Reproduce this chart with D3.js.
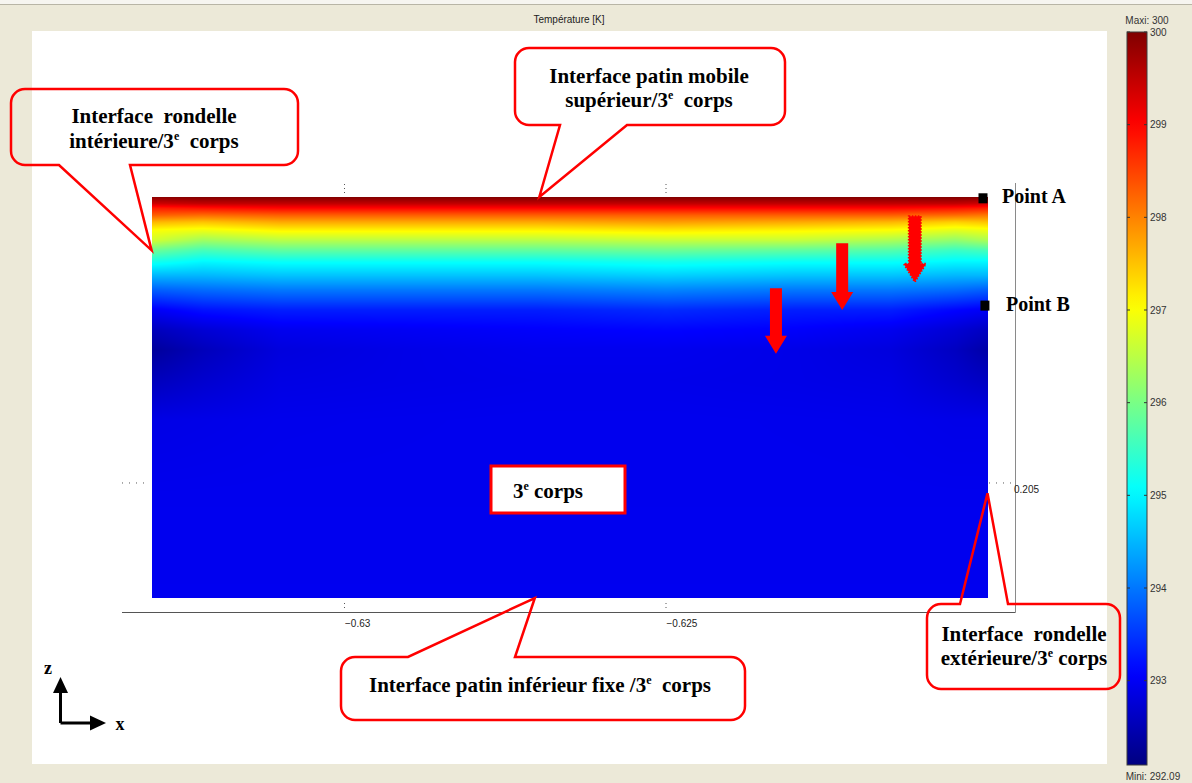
<!DOCTYPE html>
<html>
<head>
<meta charset="utf-8">
<script src="https://cdn.jsdelivr.net/npm/d3@7"></script>
<style>
  html, body { margin: 0; padding: 0; background: #ece9d8; overflow: hidden; }
  svg text { white-space: pre; }
</style>
</head>
<body>
<script>
// ---------- data ----------
// temperature field of the third body [K], sampled on a grid (x columns, z rows)
const gridX = [-0.633, -0.6322, -0.631, -0.629, -0.627, -0.625, -0.623, -0.6215, -0.6205, -0.620];
const gridZ = [0.20945, 0.20935, 0.20928, 0.20917, 0.20906, 0.20893, 0.20878, 0.20862, 0.20844,
               0.20823, 0.20800, 0.20769, 0.20738, 0.20707, 0.20660, 0.20598, 0.20474, 0.20321];
const gridT = [
  [299.9, 300.0, 300.0, 300.0, 300.0, 300.0, 300.0, 300.0, 300.0, 299.95],
  [299.4, 299.5, 299.5, 299.5, 299.5, 299.5, 299.5, 299.5, 299.5, 299.4],
  [298.8, 298.9, 299.0, 299.0, 299.0, 299.0, 299.0, 299.0, 298.9, 298.8],
  [298.3, 298.2, 298.3, 298.3, 298.3, 298.3, 298.3, 298.3, 298.2, 298.1],
  [297.6, 297.5, 297.7, 297.7, 297.7, 297.8, 297.7, 297.6, 297.4, 297.5],
  [297.0, 296.9, 297.1, 297.1, 297.1, 297.2, 297.1, 297.0, 296.8, 296.9],
  [296.7, 296.3, 296.5, 296.5, 296.5, 296.6, 296.6, 296.4, 296.2, 296.4],
  [295.9, 295.6, 295.8, 295.8, 295.8, 295.9, 295.8, 295.7, 295.5, 295.6],
  [295.2, 295.0, 295.1, 295.1, 295.1, 295.2, 295.1, 295.1, 295.0, 295.0],
  [294.5, 294.5, 294.6, 294.6, 294.6, 294.7, 294.6, 294.6, 294.5, 294.5],
  [293.8, 293.9, 294.0, 294.0, 294.0, 294.1, 294.0, 294.0, 293.9, 293.8],
  [293.0, 293.2, 293.3, 293.3, 293.3, 293.4, 293.3, 293.3, 293.1, 293.0],
  [292.55, 292.75, 292.95, 293.0, 293.05, 293.1, 293.05, 292.95, 292.75, 292.6],
  [292.3, 292.55, 292.82, 292.9, 292.95, 292.95, 292.9, 292.82, 292.6, 292.4],
  [292.55, 292.7, 292.87, 292.9, 292.92, 292.92, 292.9, 292.87, 292.7, 292.6],
  [292.88, 292.9, 292.93, 292.94, 292.95, 292.95, 292.94, 292.93, 292.9, 292.9],
  [292.95, 292.95, 292.95, 292.95, 292.95, 292.95, 292.95, 292.95, 292.95, 292.95],
  [292.96, 292.96, 292.96, 292.96, 292.96, 292.96, 292.96, 292.96, 292.96, 292.96]
];
const tMin = 292.09, tMax = 300;
const xTicks = [-0.63, -0.625];
const zTicks = [0.205];
const colorTicks = [293, 294, 295, 296, 297, 298, 299, 300];
const titleText = "Température [K]";

// probe points on the outer washer interface
const pointNames = ["Point A", "Point B"];
const pointX = [-0.62007, -0.62004];
const pointZ = [0.20943, 0.20776];

// heat flux arrows (x, z start, z tip)
const arrowX = [-0.62329, -0.62226, -0.62113];
const arrowZ0 = [0.20803, 0.20873, 0.20915];
const arrowZ1 = [0.20701, 0.20769, 0.20813];
const arrowDashed = [false, false, true];

// callout labels: text lines, [text, isSuperscript] parts
const calloutLines = [
  [[["Interface  rondelle", 0]], [["intérieure/3", 0], ["e", 1], ["  corps", 0]]],
  [[["Interface patin mobile", 0]], [["supérieur/3", 0], ["e", 1], ["  corps", 0]]],
  [[["Interface patin inférieur fixe /3", 0], ["e", 1], ["  corps", 0]]],
  [[["Interface  rondelle", 0]], [["extérieure/3", 0], ["e", 1], [" corps", 0]]]
];
const calloutTipX = [-0.633, -0.62697, -0.62704, -0.620];
const calloutTipZ = [0.20862, 0.20945, 0.20321, 0.20484];

// ---------- layout ----------
const W = 1192, H = 783;
const calloutLayout = [
  { box: [11, 89, 298, 165], side: "bottom", base: [59, 130], cx: 154, ys: [123, 148] },
  { box: [515, 48, 785, 125], side: "bottom", base: [560, 627], cx: 649, ys: [83, 107] },
  { box: [341, 657, 745, 720], side: "top", base: [408, 515], cx: 540, ys: [692] },
  { box: [927, 604, 1120, 689], side: "top", base: [960, 1008], cx: 1024, ys: [641, 665] }
];

const svg = d3.select("body").append("svg").attr("width", W).attr("height", H);

// window background
svg.append("rect").attr("width", W).attr("height", H).attr("fill", "#ece9d8");
svg.append("rect").attr("width", W).attr("height", 4).attr("fill", "#f6f5f0");
svg.append("line").attr("x1", 0).attr("x2", W).attr("y1", 4.5).attr("y2", 4.5)
  .attr("stroke", "#b8b5a6").attr("stroke-width", 1);
svg.append("rect").attr("x", 32).attr("y", 31).attr("width", 1075).attr("height", 733).attr("fill", "#fff");

svg.append("text").attr("x", 569).attr("y", 23).attr("text-anchor", "middle")
  .attr("font-family", "Liberation Sans, Arial, sans-serif").attr("font-size", 10)
  .attr("fill", "#222").text(titleText);

// ---------- scales ----------
const x = d3.scaleLinear().domain([-0.633, -0.620]).range([151.6, 987.5]);
const z = d3.scaleLinear().domain([0.20321, 0.20945]).range([598, 197]);

function jet(t) {
  const c = v => Math.max(0, Math.min(1, v));
  return [c(1.5 - Math.abs(4 * t - 3)), c(1.5 - Math.abs(4 * t - 2)), c(1.5 - Math.abs(4 * t - 1))];
}
const tNorm = d3.scaleLinear().domain([tMin, tMax]).clamp(true);
const color = v => { const [r, g, b] = jet(tNorm(v)); return d3.rgb(r * 255, g * 255, b * 255); };

// ---------- temperature field ----------
const colIdx = d3.scaleLinear().domain(gridX).range(d3.range(gridX.length)).clamp(true);
const rowIdx = d3.scaleLinear().domain(gridZ).range(d3.range(gridZ.length)).clamp(true);
const fx0 = Math.round(x(gridX[0])), fx1 = Math.round(x(gridX[gridX.length - 1]));
const fy0 = Math.round(z(gridZ[0])), fy1 = Math.round(z(gridZ[gridZ.length - 1]));
const fw = fx1 - fx0, fh = fy1 - fy0;
const cv = document.createElement("canvas");
cv.width = fw; cv.height = fh;
const ctx = cv.getContext("2d");
const img = ctx.createImageData(fw, fh);
for (let j = 0; j < fh; j++) {
  const ri = rowIdx(z.invert(fy0 + j + 0.5));
  const r0 = Math.floor(ri), r1 = Math.min(r0 + 1, gridZ.length - 1), fr = ri - r0;
  for (let i = 0; i < fw; i++) {
    const ci = colIdx(x.invert(fx0 + i + 0.5));
    const c0 = Math.floor(ci), c1 = Math.min(c0 + 1, gridX.length - 1), fc = ci - c0;
    const top = gridT[r0][c0] * (1 - fc) + gridT[r0][c1] * fc;
    const bot = gridT[r1][c0] * (1 - fc) + gridT[r1][c1] * fc;
    const [r, g, b] = jet(tNorm(top * (1 - fr) + bot * fr));
    const k = (j * fw + i) * 4;
    img.data[k] = r * 255; img.data[k + 1] = g * 255; img.data[k + 2] = b * 255; img.data[k + 3] = 255;
  }
}
ctx.putImageData(img, 0, 0);
svg.append("image").attr("x", fx0).attr("y", fy0).attr("width", fw).attr("height", fh)
  .attr("preserveAspectRatio", "none").attr("href", cv.toDataURL());

// ---------- axes ----------
svg.append("line").attr("x1", 122).attr("x2", 1015.5).attr("y1", 612.5).attr("y2", 612.5)
  .attr("stroke", "#555").attr("stroke-width", 1.2);
svg.append("line").attr("x1", 1015.5).attr("x2", 1015.5).attr("y1", 183).attr("y2", 612.5)
  .attr("stroke", "#8a8a8a").attr("stroke-width", 1);

const xAxis = svg.append("g").attr("transform", "translate(0,612)")
  .call(d3.axisBottom(x).tickValues(xTicks).tickSize(0).tickPadding(8).tickFormat(d3.format("")));
xAxis.select(".domain").remove();
xAxis.selectAll("text").attr("text-anchor", "start").attr("font-family", "Liberation Sans, Arial, sans-serif")
  .attr("font-size", 10).attr("fill", "#222");

const zAxis = svg.append("g").attr("transform", "translate(1014,0)")
  .call(d3.axisRight(z).tickValues(zTicks).tickSize(0).tickPadding(0).tickFormat(d3.format("")));
zAxis.select(".domain").remove();
zAxis.selectAll("text").attr("dy", "0.95em").attr("font-family", "Liberation Sans, Arial, sans-serif")
  .attr("font-size", 10).attr("fill", "#222");

// dotted grid ticks
const dotted = svg.append("g").attr("stroke", "#555").attr("stroke-width", 1).attr("stroke-dasharray", "1,3");
xTicks.forEach(v => {
  dotted.append("line").attr("x1", x(v)).attr("x2", x(v)).attr("y1", 184).attr("y2", 194);
  dotted.append("line").attr("x1", x(v)).attr("x2", x(v)).attr("y1", 603).attr("y2", 608);
});
zTicks.forEach(v => {
  dotted.append("line").attr("x1", 122).attr("x2", 150).attr("y1", z(v)).attr("y2", z(v)).attr("stroke-dasharray", "1,6");
  dotted.append("line").attr("x1", 989).attr("x2", 1013).attr("y1", z(v)).attr("y2", z(v)).attr("stroke-dasharray", "1,6");
});

// ---------- heat flux arrows ----------
function arrowPath(cx, ty, tp) {
  const sw = 6, hw = 11, hl = 18;
  return `M${cx - sw},${ty}L${cx + sw},${ty}L${cx + sw},${tp - hl}L${cx + hw},${tp - hl}L${cx},${tp}` +
         `L${cx - hw},${tp - hl}L${cx - sw},${tp - hl}Z`;
}
arrowX.forEach((v, i) => {
  const p = svg.append("path").attr("d", arrowPath(x(v), z(arrowZ0[i]), z(arrowZ1[i]))).attr("fill", "#ff0000");
  if (arrowDashed[i]) p.attr("stroke", "#ff0000").attr("stroke-width", 2).attr("stroke-dasharray", "1.5,1.5");
});

// ---------- probe points ----------
const labelDx = [19, 21];
pointNames.forEach((n, i) => {
  svg.append("rect").attr("x", x(pointX[i]) - 4.5).attr("y", z(pointZ[i]) - 5)
    .attr("width", 9).attr("height", 10).attr("fill", "#000");
  svg.append("text").attr("x", x(pointX[i]) + labelDx[i]).attr("y", z(pointZ[i]) + 5)
    .attr("font-family", "Liberation Serif, Times New Roman, serif").attr("font-weight", "bold")
    .attr("font-size", 20).attr("fill", "#000").text(n);
});

// ---------- callouts ----------
function calloutPath(b, side, base, tip, r) {
  const [x0, y0, x1, y1] = b;
  let p = `M${x0 + r},${y0}`;
  if (side === "top") p += `L${base[0]},${y0}L${tip[0]},${tip[1]}L${base[1]},${y0}`;
  p += `L${x1 - r},${y0}A${r},${r} 0 0 1 ${x1},${y0 + r}L${x1},${y1 - r}A${r},${r} 0 0 1 ${x1 - r},${y1}`;
  if (side === "bottom") p += `L${base[1]},${y1}L${tip[0]},${tip[1]}L${base[0]},${y1}`;
  p += `L${x0 + r},${y1}A${r},${r} 0 0 1 ${x0},${y1 - r}L${x0},${y0 + r}A${r},${r} 0 0 1 ${x0 + r},${y0}Z`;
  return p;
}
function writeLine(g, cx, y, parts, size) {
  const t = g.append("text").attr("x", cx).attr("y", y).attr("text-anchor", "middle")
    .attr("font-family", "Liberation Serif, Times New Roman, serif").attr("font-weight", "bold")
    .attr("font-size", size).attr("fill", "#000");
  let raised = false;
  parts.forEach(([s, sup]) => {
    const ts = t.append("tspan").text(s);
    if (sup && !raised) { ts.attr("dy", -8).attr("font-size", 12); raised = true; }
    else if (!sup && raised) { ts.attr("dy", 8); raised = false; }
  });
}
const cg = svg.append("g");
calloutLayout.forEach((c, i) => {
  cg.append("path").attr("d", calloutPath(c.box, c.side, c.base, [x(calloutTipX[i]), z(calloutTipZ[i])], 14))
    .attr("fill", "none").attr("stroke", "#ff0000").attr("stroke-width", 2.5).attr("stroke-linejoin", "miter");
  calloutLines[i].forEach((parts, k) => writeLine(cg, c.cx, c.ys[k], parts, 21));
});

// third body label
svg.append("rect").attr("x", 491).attr("y", 466).attr("width", 134).attr("height", 47)
  .attr("fill", "#fff").attr("stroke", "#ff0000").attr("stroke-width", 3);
writeLine(svg, 548, 498, [["3", 0], ["e", 1], [" corps", 0]], 21);

// ---------- colour bar ----------
const cb = d3.scaleLinear().domain([tMin, tMax]).range([765, 32]);
const defs = svg.append("defs");
const grad = defs.append("linearGradient").attr("id", "jetbar").attr("x1", 0).attr("x2", 0).attr("y1", 1).attr("y2", 0);
d3.range(0, 1.0001, 0.02).forEach(o => grad.append("stop").attr("offset", o).attr("stop-color", color(tMin + o * (tMax - tMin))));
svg.append("rect").attr("x", 1127).attr("y", cb(tMax)).attr("width", 20).attr("height", cb(tMin) - cb(tMax))
  .attr("fill", "url(#jetbar)").attr("stroke", "#3c3c3c").attr("stroke-width", 1);
const cbt = svg.append("g").attr("stroke", "#333").attr("stroke-width", 1);
colorTicks.forEach(v => {
  cbt.append("line").attr("x1", 1127).attr("x2", 1130).attr("y1", cb(v)).attr("y2", cb(v));
  cbt.append("line").attr("x1", 1144).attr("x2", 1147).attr("y1", cb(v)).attr("y2", cb(v));
});
const cbAxis = svg.append("g").attr("transform", "translate(1149,0)")
  .call(d3.axisRight(cb).tickValues(colorTicks).tickSize(0).tickPadding(1).tickFormat(d3.format("d")));
cbAxis.select(".domain").remove();
cbAxis.selectAll("text").attr("font-family", "Liberation Sans, Arial, sans-serif").attr("font-size", 10).attr("fill", "#333");
svg.append("text").attr("x", 1147).attr("y", 24).attr("text-anchor", "middle")
  .attr("font-family", "Liberation Sans, Arial, sans-serif").attr("font-size", 10).attr("fill", "#333")
  .text("Maxi: " + d3.format("d")(tMax));
svg.append("text").attr("x", 1153).attr("y", 780).attr("text-anchor", "middle")
  .attr("font-family", "Liberation Sans, Arial, sans-serif").attr("font-size", 10).attr("fill", "#333")
  .text("Mini: " + d3.format(".2f")(tMin));

// ---------- orientation triad ----------
const tri = svg.append("g");
tri.append("path").attr("d", "M60.5,723 L60.5,690 M60.5,723 L93,723").attr("stroke", "#000").attr("stroke-width", 3).attr("fill", "none");
tri.append("path").attr("d", "M60.5,677 L53,693 L68,693 Z").attr("fill", "#000");
tri.append("path").attr("d", "M106,723 L90,715.5 L90,730.5 Z").attr("fill", "#000");
tri.append("text").attr("x", 48).attr("y", 674).attr("text-anchor", "middle")
  .attr("font-family", "Liberation Serif, Times New Roman, serif").attr("font-weight", "bold").attr("font-size", 18).text("z");
tri.append("text").attr("x", 120).attr("y", 730).attr("text-anchor", "middle")
  .attr("font-family", "Liberation Serif, Times New Roman, serif").attr("font-weight", "bold").attr("font-size", 18).text("x");
</script>
</body>
</html>
